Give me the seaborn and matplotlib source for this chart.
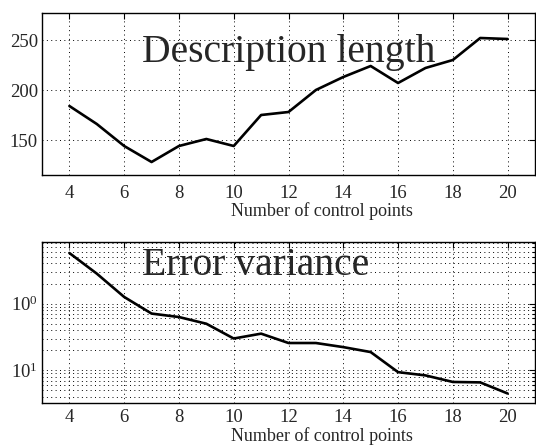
import numpy as np
import matplotlib
matplotlib.use("Agg")
import matplotlib.pyplot as plt
import matplotlib.ticker as mticker
import seaborn as sns

# values
n_points = [4, 5, 6, 7, 8, 9, 10, 11, 12, 13, 14, 15, 16, 17, 18, 19, 20]
desc_length = [184, 166, 144, 128, 144, 151, 144, 175, 178, 200, 213, 224, 207, 222, 230, 252, 251]
error_var = [0.574, 0.282, 0.126, 0.071, 0.063, 0.050, 0.030, 0.0355, 0.0257, 0.0257,
             0.0223, 0.0188, 0.0094, 0.0084, 0.0067, 0.0066, 0.0045]

x_ticks = [4, 6, 8, 10, 12, 14, 16, 18, 20]
desc_yticks = [150, 200, 250]
err_yticks = [0.1, 0.01]
err_yticklabels = ["$10^0$", "$10^1$"]
xlabel = "Number of control points"

sns.set_style("white")
plt.rcParams["font.family"] = ["Liberation Serif", "DejaVu Serif"]
plt.rcParams["mathtext.fontset"] = "custom"
plt.rcParams["mathtext.rm"] = "Liberation Serif"
plt.rcParams["mathtext.it"] = "Liberation Serif"

W, H = 536, 445
fig = plt.figure(figsize=(W / 100, H / 100), dpi=100)
ax1 = fig.add_axes([42 / W, 1 - 175 / H, 493 / W, 162 / H])
ax2 = fig.add_axes([42 / W, 1 - 403 / H, 493 / W, 161 / H])

dots = (0, (1, 3.5))

sns.lineplot(x=n_points, y=desc_length, ax=ax1, color="black", linewidth=1.9)
ax1.set_xlim(3, 21)
ax1.set_ylim(115, 277)
ax1.set_yticks(desc_yticks)
ax1.text(0.203, 0.699, "Description length", transform=ax1.transAxes,
         fontsize=28.5, va="baseline", ha="left")

ax2.set_yscale("log")
sns.lineplot(x=n_points, y=error_var, ax=ax2, color="black", linewidth=1.9)
ax2.set_xlim(3, 21)
ax2.set_ylim(0.00324, 0.84)
ax2.yaxis.set_major_locator(mticker.FixedLocator(err_yticks))
ax2.yaxis.set_major_formatter(mticker.FixedFormatter(err_yticklabels))
ax2.yaxis.set_minor_locator(mticker.LogLocator(base=10, subs=np.arange(2, 10)))
ax2.yaxis.set_minor_formatter(mticker.NullFormatter())
ax2.text(0.203, 0.793, "Error variance", transform=ax2.transAxes,
         fontsize=28.5, va="baseline", ha="left")

for ax, ly, xpad in ((ax1, -0.222, 7), (ax2, -0.205, 4.5)):
    ax.set_xticks(x_ticks)
    ax.set_xlabel(xlabel, fontsize=13)
    ax.xaxis.set_label_coords(0.568, ly)
    ax.xaxis.label.set_va("center")
    ax.set_ylabel("")
    ax.tick_params(axis="both", which="both", direction="in", top=True, right=True,
                   length=4, width=0.8, color="black", labelsize=13.5)
    ax.tick_params(axis="x", pad=xpad)
    ax.tick_params(axis="y", pad=3)
    ax.tick_params(axis="y", which="minor", length=2)
    for s in ax.spines.values():
        s.set_color("black")
        s.set_linewidth(1)
    ax.grid(True, which="major", color="black", linestyle=dots, linewidth=0.7)

ax2.grid(True, which="minor", axis="y", color="black", linestyle=dots, linewidth=0.7)

fig.savefig("out.png", dpi=100)
